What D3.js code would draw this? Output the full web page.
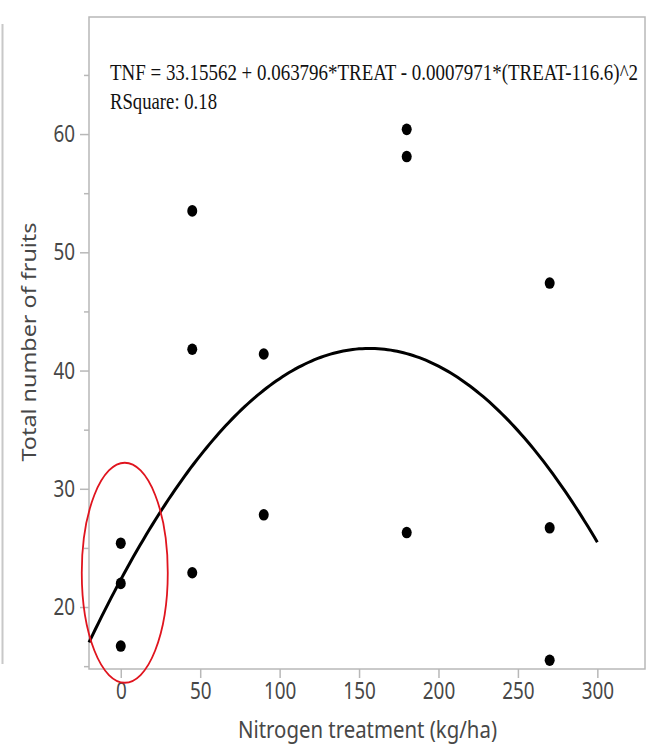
<!DOCTYPE html>
<html>
<head>
<meta charset="utf-8">
<script src="https://cdn.jsdelivr.net/npm/d3@7"></script>
<style>
  html, body { margin: 0; padding: 0; background: #fff; }
  svg { display: block; }
</style>
</head>
<body>
<svg id="chart" width="659" height="746"></svg>
<script>
// ---- data ----
const treatments = [0, 0, 0, 45, 45, 45, 90, 90, 180, 180, 180, 270, 270, 270];
const fruits     = [25.4, 22.0, 16.7, 53.5, 41.8, 22.9, 41.4, 27.8, 60.4, 58.1, 26.3, 47.4, 26.7, 15.5];
// fitted quadratic printed on the chart: TNF = a + b*T + c*(T - m)^2
const fitCoefficients = [33.15562, 0.063796, -0.0007971, 116.6];
const fitRange = [-20, 300];
const xTicks = [0, 50, 100, 150, 200, 250, 300];
const yTicks = [20, 30, 40, 50, 60];
const yMinorTicks = [15, 25, 35, 45, 55, 65];
const equationText = "TNF = 33.15562 + 0.063796*TREAT - 0.0007971*(TREAT-116.6)^2";
const rsquareText = "RSquare: 0.18";
const xTitle = "Nitrogen treatment (kg/ha)";
const yTitle = "Total number of fruits";
const highlight = { x: 0, y: 22.9 }; // centre of red ellipse in data units

// ---- layout ----
const svg = d3.select("#chart");
const L = 89, R = 645, T = 17, B = 669;
const x = d3.scaleLinear().domain([-20, 330]).range([L, R]);
const y = d3.scaleLinear().domain([14.76, 69.9]).range([B, T]);
const axisColor = "#b8b8b8";
const labelColor = "#474747";
const sansFont = "'Noto Sans', 'Open Sans', sans-serif";
const serifFont = "'Liberation Serif', 'Times New Roman', serif";
const digitW = 10.8;

// crop artifact line on the far left
svg.append("line").attr("x1", 2.5).attr("x2", 2.5).attr("y1", 24).attr("y2", 664)
  .attr("stroke", "#c8c8c8").attr("stroke-width", 2);

// frame
svg.append("rect").attr("x", L).attr("y", T).attr("width", R - L).attr("height", B - T)
  .attr("fill", "none").attr("stroke", axisColor).attr("stroke-width", 1.5);

// x axis
const xAxis = svg.append("g").attr("transform", `translate(0,${B})`)
  .call(d3.axisBottom(x).tickValues(xTicks).tickSize(9).tickPadding(4).tickFormat(d3.format("d")));
xAxis.select(".domain").remove();
xAxis.selectAll("line").attr("stroke", axisColor).attr("stroke-width", 1.5);
xAxis.selectAll("text").attr("fill", labelColor).style("font-family", sansFont).style("font-size", "24px")
  .attr("textLength", d => String(d).length * digitW).attr("lengthAdjust", "spacingAndGlyphs");

// y axis
const yAxis = svg.append("g").attr("transform", `translate(${L},0)`)
  .call(d3.axisLeft(y).tickValues(yTicks).tickSize(9).tickPadding(5).tickFormat(d3.format("d")));
yAxis.select(".domain").remove();
yAxis.selectAll("line").attr("stroke", axisColor).attr("stroke-width", 1.5);
yAxis.selectAll("text").attr("fill", labelColor).style("font-family", sansFont).style("font-size", "24px")
  .attr("textLength", d => String(d).length * digitW).attr("lengthAdjust", "spacingAndGlyphs");
const yMinor = svg.append("g").attr("transform", `translate(${L},0)`)
  .call(d3.axisLeft(y).tickValues(yMinorTicks).tickSize(5).tickFormat(""));
yMinor.select(".domain").remove();
yMinor.selectAll("line").attr("stroke", axisColor).attr("stroke-width", 1.5);

// axis titles
svg.append("text").attr("x", 367.5).attr("y", 738).attr("text-anchor", "middle")
  .attr("textLength", 259).attr("lengthAdjust", "spacingAndGlyphs")
  .attr("fill", labelColor).style("font-family", sansFont).style("font-size", "23px").text(xTitle);
svg.append("text").attr("transform", `translate(36,342) rotate(-90)`)
  .attr("text-anchor", "middle").attr("fill", labelColor)
  .attr("textLength", 239).attr("lengthAdjust", "spacingAndGlyphs")
  .style("font-family", sansFont).style("font-size", "20px").text(yTitle);

// fit curve
const [a, b, c, m] = fitCoefficients;
const fit = t => a + b * t + c * (t - m) * (t - m);
const curveT = d3.range(fitRange[0], fitRange[1] + 0.001, 2);
svg.append("path").datum(curveT)
  .attr("d", d3.line().x(t => x(t)).y(t => y(fit(t))))
  .attr("fill", "none").attr("stroke", "#000").attr("stroke-width", 3);

// points
svg.append("g").selectAll("ellipse").data(treatments).join("ellipse")
  .attr("cx", (d) => x(d)).attr("cy", (d, i) => y(fruits[i])).attr("rx", 5).attr("ry", 5.8).attr("fill", "#000");

// red ellipse
svg.append("ellipse").attr("cx", x(highlight.x) + 4).attr("cy", y(highlight.y))
  .attr("rx", 43).attr("ry", 110)
  .attr("fill", "none").attr("stroke", "#e0141e").attr("stroke-width", 1.8);

// equation text (glyphs vertically stretched as in the reference image)
svg.append("text").attr("transform", "translate(110,80) scale(1,1.27)")
  .attr("textLength", 528).attr("lengthAdjust", "spacingAndGlyphs")
  .style("font-family", serifFont).style("font-size", "18px")
  .attr("fill", "#111").text(equationText);
svg.append("text").attr("transform", "translate(110,109) scale(1,1.27)")
  .attr("textLength", 107).attr("lengthAdjust", "spacingAndGlyphs")
  .style("font-family", serifFont).style("font-size", "18px")
  .attr("fill", "#111").text(rsquareText);
</script>
</body>
</html>
